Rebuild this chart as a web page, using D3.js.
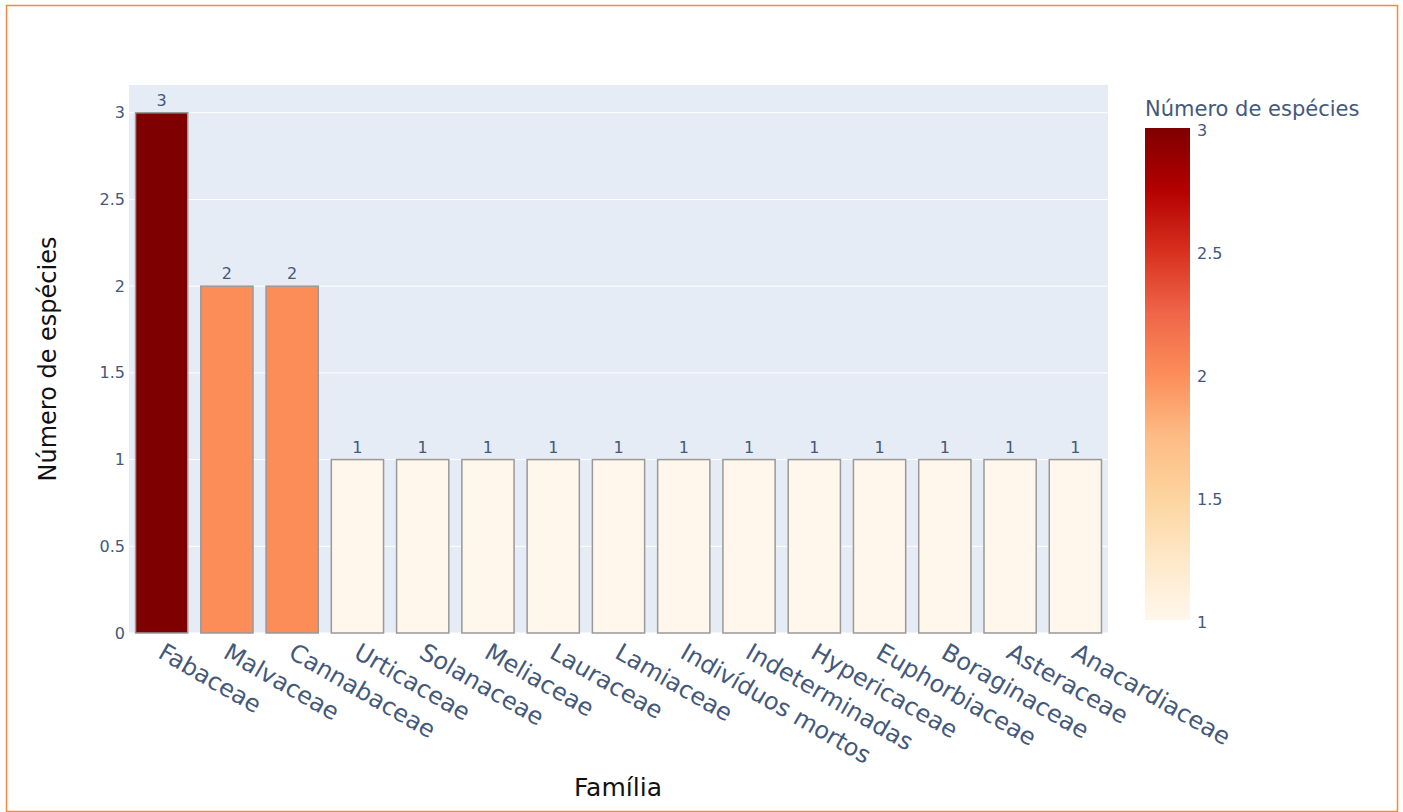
<!DOCTYPE html>
<html>
<head>
<meta charset="utf-8">
<script src="https://cdn.jsdelivr.net/npm/d3@7"></script>
<style>
  body { margin: 0; background: #fff; }
  svg text { font-family: "DejaVu Sans", Verdana, sans-serif; }
</style>
</head>
<body>
<div class="chart-box"></div>
<script>
// familias e numero de especies
var families = ["Fabaceae", "Malvaceae", "Cannabaceae", "Urticaceae", "Solanaceae",
    "Meliaceae", "Lauraceae", "Lamiaceae", "Indivíduos mortos", "Indeterminadas",
    "Hypericaceae", "Euphorbiaceae", "Boraginaceae", "Asteraceae", "Anacardiaceae"];
var counts = [3, 2, 2, 1, 1, 1, 1, 1, 1, 1, 1, 1, 1, 1, 1];
var yTicks = [0, 0.5, 1, 1.5, 2, 2.5, 3];
var cbTicks = [1, 1.5, 2, 2.5, 3];
// OrRd colorscale
var orrd = ["rgb(255,247,236)", "rgb(254,232,200)", "rgb(253,212,158)", "rgb(253,187,132)",
    "rgb(252,141,89)", "rgb(239,101,72)", "rgb(215,48,31)", "rgb(179,0,0)", "rgb(127,0,0)"];

var W = 1403, H = 812;
var margin = {top: 85, left: 129, right: 295, bottom: 179},
    width = W - margin.left - margin.right,
    height = H - margin.top - margin.bottom;

var tickColor = "#44587a";

var svg = d3.select(".chart-box").append("svg")
    .attr("width", W)
    .attr("height", H);

// frame
svg.append("rect")
    .attr("x", 6.5).attr("y", 5.5)
    .attr("width", 1391).attr("height", 806)
    .attr("fill", "none")
    .attr("stroke", "#f08a40")
    .attr("stroke-width", 1.5);

var g = svg.append("g")
    .attr("transform", "translate(" + margin.left + "," + margin.top + ")");

var x = d3.scaleBand().domain(families).range([0, width])
    .paddingInner(0.2).paddingOuter(0.1);
var y = d3.scaleLinear().domain([0, 3.16]).range([height, 0]);

var cmin = d3.min(counts), cmax = d3.max(counts);
var color = d3.scaleLinear()
    .domain(orrd.map(function(d, i) { return cmin + (cmax - cmin) * i / (orrd.length - 1); }))
    .range(orrd);

// plot background + grid
g.append("rect")
    .attr("width", width).attr("height", height)
    .attr("fill", "#e5ecf6");

g.selectAll(".grid")
    .data(yTicks)
  .enter().append("line")
    .attr("x1", 0).attr("x2", width)
    .attr("y1", function(d) { return y(d); })
    .attr("y2", function(d) { return y(d); })
    .attr("stroke", "#fff")
    .attr("stroke-width", 1);

// y axis
var yAxis = d3.axisLeft(y).tickValues(yTicks).tickFormat(d3.format("")).tickSize(0).tickPadding(4);
g.append("g")
    .call(yAxis)
    .call(function(s) { s.select(".domain").remove(); })
  .selectAll("text")
    .attr("fill", tickColor)
    .style("font-size", "16px");

// x axis labels, rotated
var xAxis = d3.axisBottom(x).tickSize(0);
var xg = g.append("g")
    .attr("transform", "translate(0," + height + ")")
    .call(xAxis);
xg.select(".domain").remove();
xg.selectAll(".tick text")
    .attr("y", 0)
    .attr("dy", 0)
    .attr("fill", tickColor)
    .style("font-size", "24px")
    .style("text-anchor", "start")
    .attr("transform", "translate(-5,24) rotate(30)");

// bars
g.selectAll(".bar")
    .data(counts)
  .enter().append("rect")
    .attr("class", "bar")
    .attr("x", function(d, i) { return x(families[i]); })
    .attr("y", function(d) { return y(d); })
    .attr("width", x.bandwidth())
    .attr("height", function(d) { return height - y(d); })
    .attr("fill", function(d) { return color(d); })
    .attr("stroke", "#999")
    .attr("stroke-width", 1.5);

g.selectAll(".bar-label")
    .data(counts)
  .enter().append("text")
    .attr("x", function(d, i) { return x(families[i]) + x.bandwidth() / 2; })
    .attr("y", function(d) { return y(d) - 7; })
    .attr("text-anchor", "middle")
    .attr("fill", tickColor)
    .style("font-size", "16px")
    .text(function(d) { return d; });

// axis titles
svg.append("text")
    .attr("transform", "translate(56," + (margin.top + height / 2) + ") rotate(-90)")
    .attr("text-anchor", "middle")
    .attr("fill", "#111")
    .style("font-size", "24px")
    .text("Número de espécies");

svg.append("text")
    .attr("x", 618).attr("y", 796)
    .attr("text-anchor", "middle")
    .attr("fill", "#111")
    .style("font-size", "25px")
    .text("Família");

// colorbar
var cbX = 1145, cbW = 45, cbTop = 128, cbBottom = 620;
var cy = d3.scaleLinear().domain([cmin, cmax]).range([cbBottom, cbTop]);

var grad = svg.append("defs").append("linearGradient")
    .attr("id", "cb-grad")
    .attr("x1", 0).attr("y1", 1).attr("x2", 0).attr("y2", 0);
grad.selectAll("stop")
    .data(orrd)
  .enter().append("stop")
    .attr("offset", function(d, i) { return i / (orrd.length - 1); })
    .attr("stop-color", function(d) { return d; });

svg.append("rect")
    .attr("x", cbX).attr("y", cbTop)
    .attr("width", cbW).attr("height", cbBottom - cbTop)
    .attr("fill", "url(#cb-grad)");

var cbAxis = d3.axisRight(cy).tickValues(cbTicks).tickFormat(d3.format("")).tickSize(0).tickPadding(7);
svg.append("g")
    .attr("transform", "translate(" + (cbX + cbW) + ",2)")
    .call(cbAxis)
    .call(function(s) { s.select(".domain").remove(); })
  .selectAll("text")
    .attr("fill", tickColor)
    .style("font-size", "16px");

svg.append("text")
    .attr("x", cbX).attr("y", 116)
    .attr("fill", tickColor)
    .style("font-size", "21px")
    .text("Número de espécies");
</script>
</body>
</html>
